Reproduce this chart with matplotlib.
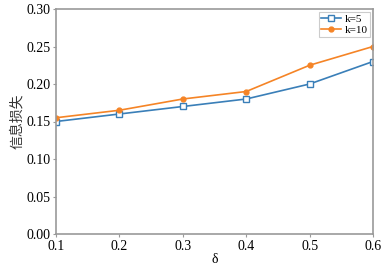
import matplotlib
import matplotlib.pyplot as plt

matplotlib.use("Agg")

delta = [0.1, 0.2, 0.3, 0.4, 0.5, 0.6]
loss_k5 = [0.15, 0.16, 0.17, 0.18, 0.20, 0.23]
loss_k10 = [0.155, 0.165, 0.18, 0.19, 0.225, 0.25]

plt.rcParams["font.family"] = ["Liberation Serif", "Noto Sans CJK SC"]

fig = plt.figure(figsize=(3.86, 2.66), dpi=100)
ax = fig.add_axes([56 / 386, 32 / 266, 317 / 386, 225 / 266])

ax.plot(delta, loss_k5, color="#3a7fb8", marker="s", markersize=4,
        markerfacecolor="white", markeredgewidth=1.0, linewidth=1.2, label="k=5")
ax.plot(delta, loss_k10, color="#f58426", marker="o", markersize=3.5,
        linewidth=1.2, label="k=10")

ax.set_xlim(0.1, 0.6)
ax.set_ylim(0, 0.30)
ax.set_xticks(delta)
ax.set_yticks([0.0, 0.05, 0.10, 0.15, 0.20, 0.25, 0.30])
ax.set_yticklabels(["0.00", "0.05", "0.10", "0.15", "0.20", "0.25", "0.30"])
ax.tick_params(labelsize=10, length=2, width=0.8, color="#999999", pad=2)

for spine in ax.spines.values():
    spine.set_color("#999999")
    spine.set_linewidth(1.2)

ax.set_xlabel("δ", fontsize=10, labelpad=0)
ax.set_ylabel("信息损失", fontsize=10, family=["Noto Sans CJK SC"], labelpad=2,
              color="#333333")

leg = ax.legend(loc="upper right", fontsize=8, fancybox=False, framealpha=1,
                edgecolor="#cccccc", borderpad=0.2, handlelength=1.8,
                handletextpad=0.3, labelspacing=0.1, borderaxespad=0.3)
leg.get_frame().set_linewidth(0.8)

fig.savefig("out.png", dpi=100, facecolor="white")
